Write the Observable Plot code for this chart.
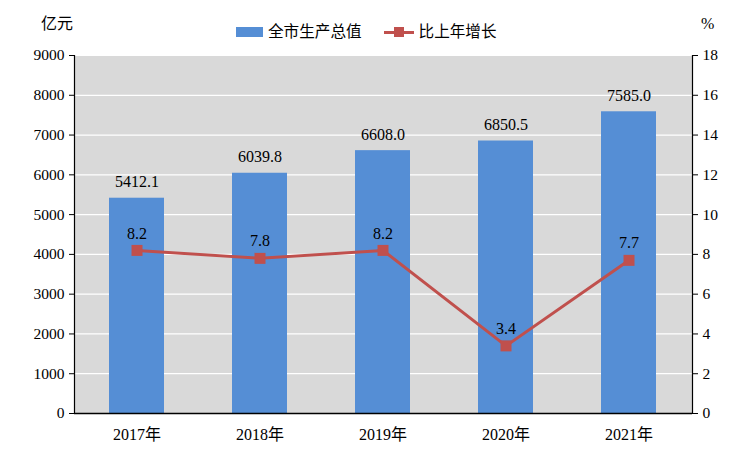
<!DOCTYPE html>
<html>
<head>
<meta charset="utf-8">
<script src="https://cdn.jsdelivr.net/npm/d3@7"></script>
<script src="https://cdn.jsdelivr.net/npm/@observablehq/plot@0.6"></script>
<style>
  html, body { margin: 0; padding: 0; background: #fff; }
  #wrap { position: relative; width: 741px; height: 450px; font-family: "Liberation Serif", "Times New Roman", Times, "DejaVu Serif", "Noto Sans CJK SC", serif; }
  .unit { position: absolute; font-size: 16px; color: #000; line-height: 20px; }
  #legend { position: absolute; top: 22px; left: 236px; font-size: 15.6px; line-height: 20px; display: flex; align-items: center; }
  #legend .sw { display: inline-block; width: 27px; height: 10px; background: #558ed5; margin-right: 5px; }
  #legend .ln { position: relative; display: inline-block; width: 30px; height: 12px; margin-left: 22px; margin-right: 5px; }
  #legend .ln::before { content: ""; position: absolute; left: 0; right: 0; top: 4.5px; height: 3px; background: #c0504d; }
  #legend .ln::after { content: ""; position: absolute; left: 10px; top: 1px; width: 10px; height: 10px; background: #c0504d; }
  #chart svg, #chart svg text, #chart svg g { font-family: "Liberation Serif", "Times New Roman", Times, "DejaVu Serif", "Noto Sans CJK SC", serif !important; }
</style>
</head>
<body>
<div id="wrap">
  <div class="unit" style="left:41px; top:14px;">亿元</div>
  <div class="unit" style="left:701px; top:14px;">%</div>
  <div id="legend"><span class="sw"></span><span>全市生产总值</span><span class="ln"></span><span>比上年增长</span></div>
  <div id="chart"></div>
</div>
<script>
const years = ["2017年", "2018年", "2019年", "2020年", "2021年"];
const gdp = [5412.1, 6039.8, 6608.0, 6850.5, 7585.0];
const growth = [8.2, 7.8, 8.2, 3.4, 7.7];
const leftTicks = [0, 1000, 2000, 3000, 4000, 5000, 6000, 7000, 8000, 9000];
const rightTicks = [0, 2, 4, 6, 8, 10, 12, 14, 16, 18];

const ratio = 9000 / 18;
const data = years.map((y, i) => ({year: y, gdp: gdp[i], growth: growth[i], gy: growth[i] * ratio}));

const chart = Plot.plot({
  width: 741,
  height: 450,
  marginTop: 55,
  marginBottom: 37,
  marginLeft: 74,
  marginRight: 49,
  style: {fontFamily: "'Liberation Serif', 'Times New Roman', serif", fontSize: "15px", background: "transparent", color: "#000"},
  x: {domain: years, paddingInner: 0.55, paddingOuter: 0.275, label: null},
  y: {domain: [0, 9000], label: null},
  marks: [
    Plot.frame({fill: "#d9d9d9", stroke: null}),
    Plot.gridY(leftTicks.slice(1), {stroke: "#fff", strokeOpacity: 1, strokeWidth: 1.2}),
    Plot.barY(data, {x: "year", y: "gdp", fill: "#558ed5"}),
    Plot.frame({anchor: "left", stroke: "#000", strokeWidth: 1.2}),
    Plot.frame({anchor: "right", stroke: "#000", strokeWidth: 1.2}),
    Plot.axisY(leftTicks, {anchor: "left", tickSize: 5, tickPadding: 5, fontSize: 15.5, label: null, tickFormat: d => String(d)}),
    Plot.axisY(rightTicks.map(d => d * ratio), {anchor: "right", tickSize: 5, tickPadding: 5, fontSize: 15.5, label: null, tickFormat: d => String(d / ratio)}),
    Plot.axisX({anchor: "bottom", tickSize: 0, tickPadding: 15, fontSize: 16, label: null}),
    Plot.ruleY([0], {stroke: "#000", strokeWidth: 1.5}),
    Plot.text(data, {x: "year", y: "gdp", text: d => d.gdp.toFixed(1), dy: -16, fontSize: 16}),
    Plot.line(data, {x: "year", y: "gy", stroke: "#c0504d", strokeWidth: 3}),
    Plot.dot(data, {x: "year", y: "gy", symbol: "square", r: 6.2, fill: "#c0504d", stroke: null}),
    Plot.text(data, {x: "year", y: "gy", text: d => d.growth.toFixed(1), dy: -17, fontSize: 16})
  ]
});
document.getElementById("chart").appendChild(chart);
</script>
</body>
</html>
